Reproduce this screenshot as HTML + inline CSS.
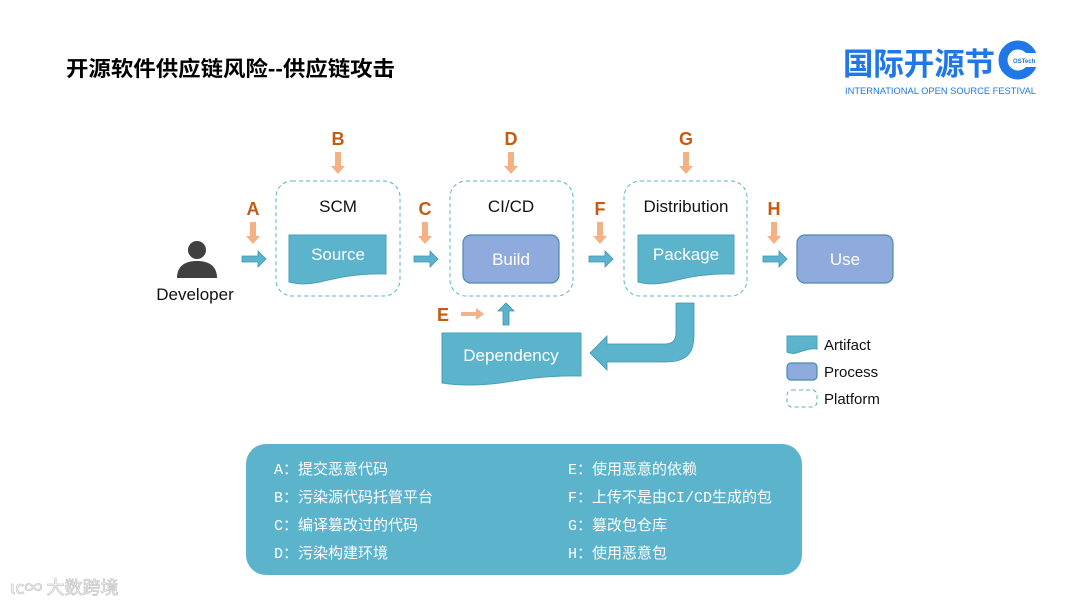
<!DOCTYPE html>
<html><head><meta charset="utf-8"><style>
html,body{margin:0;padding:0;background:#fff;}
svg{display:block;}
text{font-family:"Liberation Sans","Noto Sans CJK SC",sans-serif;}
.cj{font-family:"Liberation Mono","Noto Sans CJK SC",monospace;font-size:15px;fill:#fff;}
.L{font-size:18px;font-weight:bold;fill:#c55a11;text-anchor:middle;}
.lb{font-size:17px;fill:#111;text-anchor:middle;}
.wt{font-size:17px;fill:#fff;text-anchor:middle;}
.plat{fill:none;stroke:#5bb3cc;stroke-width:1;stroke-dasharray:4,3;}
.art{fill:#5bb3cc;stroke:#4aa0ba;stroke-width:1;}
.proc{fill:#8faadc;stroke:#4a8ab0;stroke-width:1.2;}
.oa{fill:#f4b183;}
.ta{fill:#5bb3cc;stroke:#3f95b3;stroke-width:0.8;}
</style></head><body>
<svg width="1080" height="608" viewBox="0 0 1080 608" xmlns="http://www.w3.org/2000/svg">
<text x="66" y="76" textLength="329" lengthAdjust="spacingAndGlyphs" style="font-size:21px;font-weight:bold;fill:#000;font-family:'Liberation Sans','Noto Sans CJK SC',sans-serif">开源软件供应链风险--供应链攻击</text>
<!-- logo -->
<text x="843" y="75" textLength="152" lengthAdjust="spacingAndGlyphs" style="font-size:31px;font-weight:bold;fill:#1f77e8;font-family:'Noto Sans CJK SC',sans-serif">国际开源节</text>
<circle cx="1018" cy="60" r="15" fill="none" stroke="#1f77e8" stroke-width="9"/>
<rect x="1018" y="53" width="20" height="14" fill="#fff"/>
<text x="1013" y="63" style="font-size:6px;font-weight:bold;fill:#1f77e8">OSTech</text>
<text x="845" y="94" textLength="191" lengthAdjust="spacingAndGlyphs" style="font-size:9.5px;fill:#1f77e8">INTERNATIONAL OPEN SOURCE FESTIVAL</text>

<!-- developer -->
<circle cx="197" cy="250" r="9" fill="#404040"/>
<path d="M177,278 C177,266 185,261 197,261 C209,261 217,266 217,278 Z" fill="#404040"/>
<text x="195" y="300" class="lb">Developer</text>

<!-- platforms -->
<rect x="276" y="181" width="124" height="115" rx="16" class="plat"/>
<rect x="450" y="181" width="123" height="115" rx="16" class="plat"/>
<rect x="624" y="181" width="123" height="115" rx="16" class="plat"/>
<text x="338" y="212" class="lb">SCM</text>
<text x="511" y="212" class="lb">CI/CD</text>
<text x="686" y="212" class="lb">Distribution</text>

<!-- artifacts -->
<path d="M289,235 H386 V274 C360,273 340,277 320,282 C305,285 296,284 289,282 Z" class="art"/>
<text x="338" y="260" class="wt">Source</text>
<rect x="463" y="235" width="96" height="48" rx="8" class="proc"/>
<text x="511" y="265" class="wt">Build</text>
<path d="M638,235 H734 V274 C708,273 688,277 669,282 C654,285 645,284 638,282 Z" class="art"/>
<text x="686" y="260" class="wt">Package</text>
<rect x="797" y="235" width="96" height="48" rx="8" class="proc"/>
<text x="845" y="265" class="wt">Use</text>
<path d="M442,333 H581 V376 C550,375 525,379 500,383 C475,386 455,385 442,383 Z" class="art"/>
<text x="511" y="361" class="wt">Dependency</text>

<!-- letters -->
<text x="253" y="215" class="L">A</text>
<text x="338" y="145" class="L">B</text>
<text x="425" y="215" class="L">C</text>
<text x="511" y="145" class="L">D</text>
<text x="443" y="321" class="L">E</text>
<text x="600" y="215" class="L">F</text>
<text x="686" y="145" class="L">G</text>
<text x="774" y="215" class="L">H</text>

<!-- orange down arrows -->
<g class="oa">
<path d="M250,222 h6 v14 h4 l-7,8 l-7,-8 h4 z"/>
<path d="M335,152 h6 v14 h4 l-7,8 l-7,-8 h4 z"/>
<path d="M422,222 h6 v14 h4 l-7,8 l-7,-8 h4 z"/>
<path d="M508,152 h6 v14 h4 l-7,8 l-7,-8 h4 z"/>
<path d="M597,222 h6 v14 h4 l-7,8 l-7,-8 h4 z"/>
<path d="M683,152 h6 v14 h4 l-7,8 l-7,-8 h4 z"/>
<path d="M771,222 h6 v14 h4 l-7,8 l-7,-8 h4 z"/>
<path d="M461,312 h15 v-4 l8,6 l-8,6 v-4 h-15 z"/>
</g>
<!-- teal right arrows -->
<g class="ta">
<path d="M242,256 h16 v-5 l8,8 l-8,8 v-5 h-16 z"/>
<path d="M414,256 h16 v-5 l8,8 l-8,8 v-5 h-16 z"/>
<path d="M589,256 h16 v-5 l8,8 l-8,8 v-5 h-16 z"/>
<path d="M763,256 h16 v-5 l8,8 l-8,8 v-5 h-16 z"/>
<path d="M503,325 v-14 h-5 l8,-8 l8,8 h-5 v14 z"/>
<path d="M676,303 H694 V335 C694,355 685,362 665,362 H607 V370 L590,353 L607,336 V344 H665 C673,344 676,340 676,333 Z"/>
</g>

<!-- legend -->
<path d="M787,336 H817 V349 C810,348 803,351 796,353 C792,354 789,353 787,352 Z" class="art"/>
<text x="824" y="350" style="font-size:15px;fill:#111">Artifact</text>
<rect x="787" y="363" width="30" height="17" rx="4" class="proc"/>
<text x="824" y="377" style="font-size:15px;fill:#111">Process</text>
<rect x="787" y="390" width="30" height="17" rx="5" class="plat"/>
<text x="824" y="404" style="font-size:15px;fill:#111">Platform</text>

<!-- bottom panel -->
<rect x="246" y="444" width="556" height="131" rx="20" fill="#5bb3cc"/>
<text class="cj" x="274" y="474">A：提交恶意代码</text>
<text class="cj" x="274" y="502">B：污染源代码托管平台</text>
<text class="cj" x="274" y="530">C：编译篡改过的代码</text>
<text class="cj" x="274" y="558">D：污染构建环境</text>
<text class="cj" x="568" y="474">E：使用恶意的依赖</text>
<text class="cj" x="568" y="502">F：上传不是由CI/CD生成的包</text>
<text class="cj" x="568" y="530">G：篡改包仓库</text>
<text class="cj" x="568" y="558">H：使用恶意包</text>

<!-- watermark -->
<text x="10" y="594" style="font-size:18px;fill:#fff;stroke:#c8c8c8;stroke-width:0.8;font-family:'Noto Sans CJK SC',sans-serif">ιc∞ 大数跨境</text>
</svg>
</body></html>
